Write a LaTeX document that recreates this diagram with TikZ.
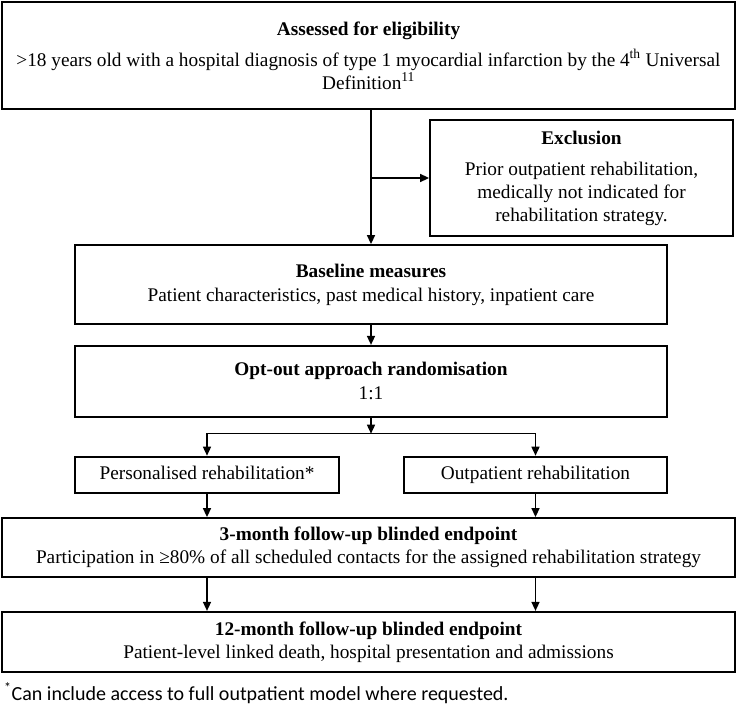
\documentclass[tikz,border=0pt]{standalone}
\usepackage{fontspec}
\setmainfont{Liberation Serif}
\newfontfamily\notefont{Carlito}
\usetikzlibrary{arrows.meta, positioning, calc}

\newcommand{\boxfont}{\fontsize{19.3pt}{23pt}\selectfont}

\tikzset{
  mainbox/.style = {
    rectangle, draw=black, line width=1.8pt, inner sep=2pt,
    align=center, font=\boxfont, minimum width=592pt
  },
  widebox/.style = {mainbox, minimum width=733pt},
  armbox/.style = {mainbox, minimum width=264pt, minimum height=36pt},
  myarrow/.style = {-{Triangle[length=9pt, width=8pt]}, line width=1.5pt}
}

\begin{document}
\begin{tikzpicture}[x=1pt, y=1pt]
\useasboundingbox (0,0) rectangle (737,-709);

% ----- NODES (main column) -----
\node[widebox, minimum height=107pt] (elig) at (368.5,-55.5)
  {\textbf{Assessed for eligibility}\\[8pt]
   >18 years old with a hospital diagnosis of type 1 myocardial infarction by the 4\textsuperscript{th} Universal\\
   Definition\textsuperscript{11}};
\node[mainbox, minimum width=303pt, minimum height=116pt] (excl) at (581.5,-178)
  {\textbf{Exclusion}\\[8pt]
   Prior outpatient rehabilitation,\\ medically not indicated for\\ rehabilitation strategy.};
\node[mainbox, minimum height=79pt] (base) at (371,-284.5)
  {\textbf{Baseline measures}\\[1pt]
   Patient characteristics, past medical history, inpatient care};
\node[mainbox, minimum height=71pt, below=20pt of base] (rand)
  {\textbf{Opt-out approach randomisation}\\[1pt] 1:1};

% ----- NODES (two arms) -----
\node[armbox, below=38pt of rand.south west, anchor=north west] (pers)
  {\strut Personalised rehabilitation*};
\node[armbox, minimum width=263pt, below=38pt of rand.south east, anchor=north east] (outp)
  {\strut Outpatient rehabilitation};

% ----- NODES (follow-up) -----
\node[widebox, minimum height=59pt] (fu3) at (368.5,-547.5)
  {\textbf{3-month follow-up blinded endpoint}\\
   Participation in ≥80\% of all scheduled contacts for the assigned rehabilitation strategy};
\node[widebox, minimum height=60pt, below=33pt of fu3] (fu12)
  {\textbf{12-month follow-up blinded endpoint}\\
   Patient-level linked death, hospital presentation and admissions};

\node[anchor=west, inner sep=0pt, font=\notefont\fontsize{20pt}{23pt}\selectfont] (note) at (4,-693)
  {\textsuperscript{*}Can include access to full outpatient model where requested.};

% ----- ARROWS -----
\draw[myarrow] (elig.south -| base.north) -- (base.north);
% Exclusion branch
\draw[myarrow] (excl.west -| base.north) -- (excl.west);

\draw[myarrow] (base) -- (rand);

% Randomisation splits into both arms
\coordinate (split) at ($(rand.south)+(0,-16)$);
\draw[myarrow] (rand) -- (split);
\draw[myarrow] (split) -| (pers);
\draw[myarrow] (split) -| (outp);

% Arms --> follow-up
\draw[myarrow] (pers) -- (pers |- fu3.north);
\draw[myarrow] (outp) -- (outp |- fu3.north);
\draw[myarrow] (fu3.south -| pers) -- (fu12.north -| pers);
\draw[myarrow] (fu3.south -| outp) -- (fu12.north -| outp);

\end{tikzpicture}
\end{document}
